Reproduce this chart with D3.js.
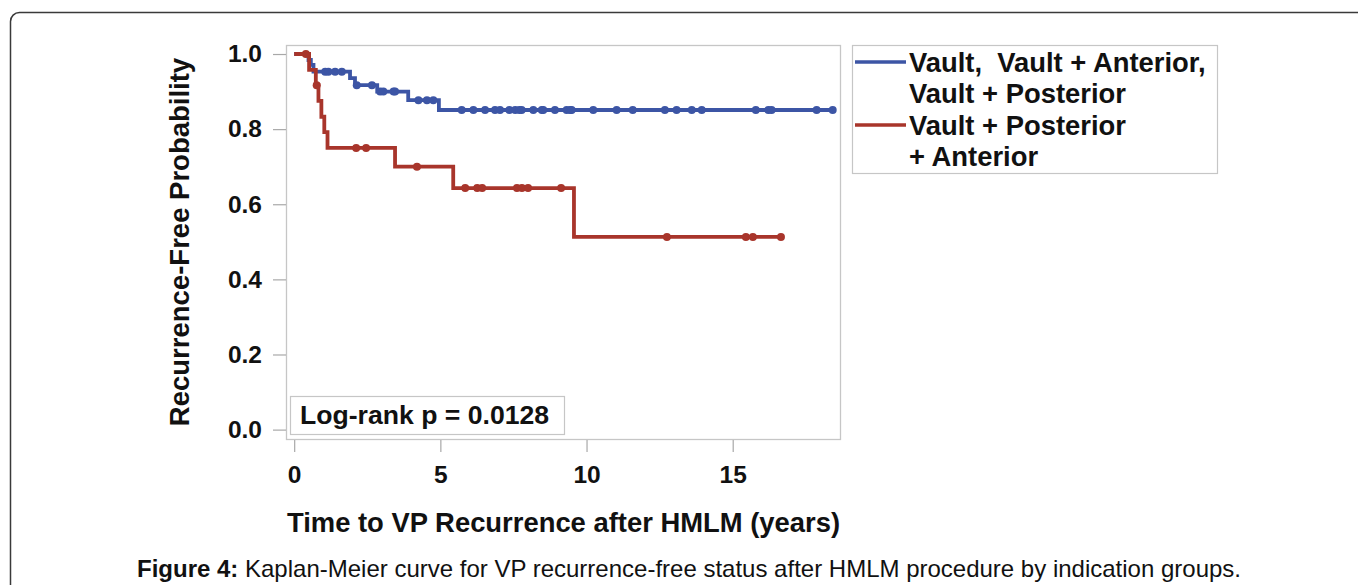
<!DOCTYPE html>
<html>
<head>
<meta charset="utf-8">
<script src="https://cdn.jsdelivr.net/npm/d3@7"></script>
<style>
  html, body { margin: 0; padding: 0; background: #fff; }
  svg { display: block; }
  text { font-family: "Liberation Sans", Arial, sans-serif; }
</style>
</head>
<body>
<svg id="chart" width="1358" height="585"></svg>
<script>
// ---- data ----
const groupNames = ["Vault,\u00a0\u00a0Vault + Anterior,|Vault + Posterior", "Vault + Posterior|+ Anterior"];
const blueEventTimes = [0.49, 0.57, 0.66, 1.91, 2.08, 2.84, 3.90, 4.95];
const blueSurvival   = [0.984, 0.971, 0.953, 0.936, 0.917, 0.900, 0.877, 0.851];
const blueCensorTimes = [1.06, 1.17, 1.40, 1.63, 2.14, 2.66, 2.94, 3.05, 3.40, 3.45, 4.25, 4.54, 4.76,
  5.73, 6.13, 6.53, 6.87, 7.04, 7.36, 7.56, 7.70, 7.78, 8.18, 8.47, 8.52, 8.92, 9.32, 9.44, 9.49,
  10.23, 11.03, 11.58, 12.68, 13.08, 13.60, 13.94, 15.79, 16.22, 16.33, 17.87, 18.42];
const blueEndTime = 18.42;
const redEventTimes = [0.51, 0.74, 0.83, 0.93, 1.03, 1.14, 3.45, 5.44, 9.57];
const redSurvival   = [0.958, 0.917, 0.875, 0.833, 0.792, 0.75, 0.70, 0.643, 0.513];
const redCensorTimes = [0.40, 0.77, 2.12, 2.46, 4.20, 5.85, 6.26, 6.43, 7.62, 7.79, 8.00, 9.13,
  12.75, 15.45, 15.69, 16.65];
const redEndTime = 16.65;
const xTicks = [0, 5, 10, 15];
const yTicks = [0.0, 0.2, 0.4, 0.6, 0.8, 1.0];
const xTitle = "Time to VP Recurrence after HMLM (years)";
const yTitle = "Recurrence-Free Probability";
const pText = "Log-rank p = 0.0128";
const captionBold = "Figure 4:";
const captionRest = " Kaplan-Meier curve for VP recurrence-free status after HMLM procedure by indication groups.";

// ---- layout ----
const svg = d3.select("#chart");
const colors = ["#3c55a5", "#a8352b"];
const plot = {left: 286, right: 840, top: 45, bottom: 439};
const x = d3.scaleLinear().domain([-0.28, 18.67]).range([plot.left, plot.right]);
const y = d3.scaleLinear().domain([-0.025, 1.024]).range([plot.bottom, plot.top]);

// outer frame
svg.append("rect").attr("x", 10.5).attr("y", 12.5).attr("width", 1360).attr("height", 600)
  .attr("rx", 9).attr("fill", "none").attr("stroke", "#3a3a3a").attr("stroke-width", 1.5);

// plot frame
svg.append("rect").attr("x", plot.left + 0.5).attr("y", plot.top + 0.5)
  .attr("width", plot.right - plot.left).attr("height", plot.bottom - plot.top)
  .attr("fill", "none").attr("stroke", "#c6c6c6").attr("stroke-width", 1.3);

// axes
const yAxis = d3.axisLeft(y).tickValues(yTicks).tickFormat(d3.format(".1f")).tickSize(13).tickPadding(11);
const gy = svg.append("g").attr("transform", `translate(${plot.left},0)`).call(yAxis);
gy.select(".domain").remove();
gy.selectAll("line").attr("stroke", "#a8a8a8").attr("stroke-width", 1.2);
gy.selectAll("text").attr("font-size", 24.5).attr("font-weight", "bold").attr("fill", "#111")
  .attr("font-family", "Liberation Sans, Arial, sans-serif");

const xAxis = d3.axisBottom(x).tickValues(xTicks).tickFormat(d3.format("d")).tickSize(12).tickPadding(14);
const gx = svg.append("g").attr("transform", `translate(0,${plot.bottom + 1})`).call(xAxis);
gx.select(".domain").remove();
gx.selectAll("line").attr("stroke", "#a8a8a8").attr("stroke-width", 1.2);
gx.selectAll("text").attr("font-size", 24.5).attr("font-weight", "bold").attr("fill", "#111")
  .attr("font-family", "Liberation Sans, Arial, sans-serif");

// titles
svg.append("text").attr("x", (plot.left + plot.right) / 2 + 0.5).attr("y", 532)
  .attr("text-anchor", "middle").attr("font-size", 27.4).attr("font-weight", "bold").attr("fill", "#111")
  .text(xTitle);
svg.append("text").attr("transform", `translate(189,${(plot.top + plot.bottom) / 2}) rotate(-90)`)
  .attr("text-anchor", "middle").attr("font-size", 27.5).attr("font-weight", "bold").attr("fill", "#111")
  .text(yTitle);

// curves
function stepData(times, surv, end) {
  const pts = [[0, 1]];
  times.forEach((t, i) => pts.push([t, surv[i]]));
  pts.push([end, surv[surv.length - 1]]);
  return pts;
}
function survAt(times, surv, t) {
  let s = 1;
  times.forEach((tt, i) => { if (tt <= t) s = surv[i]; });
  return s;
}
const line = d3.line().x(d => x(d[0])).y(d => y(d[1])).curve(d3.curveStepAfter);
const groups = [
  {times: blueEventTimes, surv: blueSurvival, censor: blueCensorTimes, end: blueEndTime},
  {times: redEventTimes, surv: redSurvival, censor: redCensorTimes, end: redEndTime}
];
groups.forEach((g, gi) => {
  svg.append("path").datum(stepData(g.times, g.surv, g.end)).attr("d", line)
    .attr("fill", "none").attr("stroke", colors[gi]).attr("stroke-width", 3.8)
    .attr("stroke-linejoin", "miter");
  svg.selectAll(null).data(g.censor).enter().append("circle")
    .attr("cx", d => x(d)).attr("cy", d => y(survAt(g.times, g.surv, d)))
    .attr("r", 4).attr("fill", colors[gi]);
});

// log-rank box
svg.append("rect").attr("x", 290.5).attr("y", 396.5).attr("width", 274).attr("height", 38)
  .attr("fill", "#fff").attr("stroke", "#c6c6c6").attr("stroke-width", 1.2);
svg.append("text").attr("x", 300).attr("y", 424).attr("font-size", 26.6).attr("font-weight", "bold")
  .attr("fill", "#111").text(pText);

// legend
svg.append("rect").attr("x", 852.5).attr("y", 45.5).attr("width", 365).attr("height", 128)
  .attr("fill", "#fff").attr("stroke", "#c6c6c6").attr("stroke-width", 1.2);
const rowY = [62, 93, 125, 156];
groupNames.forEach((nm, gi) => {
  const lines = nm.split("|");
  svg.append("line").attr("x1", 855).attr("x2", 906)
    .attr("y1", rowY[gi * 2]).attr("y2", rowY[gi * 2])
    .attr("stroke", colors[gi]).attr("stroke-width", 3.4);
  lines.forEach((ln, li) => {
    svg.append("text").attr("x", 909).attr("y", rowY[gi * 2 + li] + 10)
      .attr("font-size", 27.4).attr("font-weight", "bold").attr("fill", "#111").text(ln);
  });
});

// caption
const cap = svg.append("text").attr("x", 689).attr("y", 577).attr("text-anchor", "middle")
  .attr("font-size", 24).attr("fill", "#111");
cap.append("tspan").attr("font-weight", "bold").text(captionBold);
cap.append("tspan").text(captionRest);
</script>
</body>
</html>
